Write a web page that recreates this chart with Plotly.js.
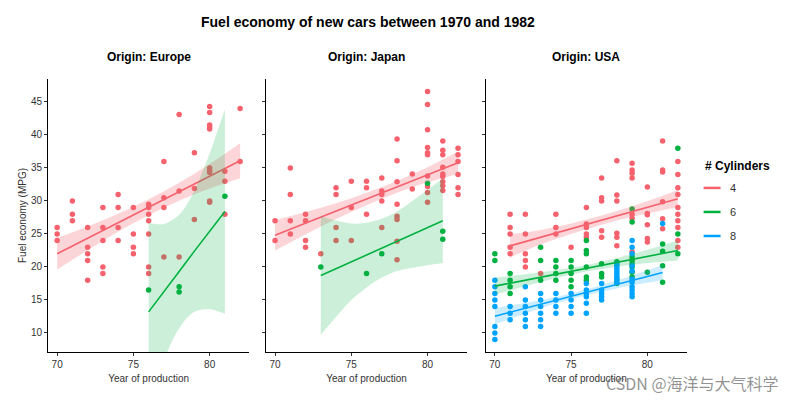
<!DOCTYPE html>
<html><head><meta charset="utf-8">
<script src="https://cdn.plot.ly/plotly-3.0.1.min.js"></script>
<style>html,body{margin:0;padding:0;background:#fff}#chart{width:800px;height:400px}</style>
</head><body><div id="chart"></div>
<script>
// ---- DATA (grouped: [year, mpg, mpg, ...]) ----
const origins = ['Europe', 'Japan', 'USA'];
const cylinders = ['4', '6', '8'];
const xTicks = [70, 75, 80];
const yTicks = [10, 15, 20, 25, 30, 35, 40, 45];

const eu4 = [[70,26,25,24],[71,30,28,27],[72,26,23,22,21,18],[73,29,26,24,20,19],[74,31,29,26,24],[75,29,25,23,22],
  [76,29.5,29,28,27,25,20,19],[77,36,30.5,29,21.5],[78,43.1,31.5,21.5],[79,37.3,31.9,27.2],
  [80,44.3,43.4,41.5,41.2,40.9,35,34.6,34.3,30,29.8],[81,34.5,33,28],[82,44,36]];
const eu6 = [[76,16.5],[78,17,16.2],[81,30.7]];
const eu8 = [];

const jp4 = [[70,27,24],[71,35,31,27,25],[72,28,27,24,23],[73,22],[74,32,31,26,24],[75,33,29,24],[76,33,32,28],
  [77,33.5,31.5,31,30,26],[78,39.4,36.1,32.9,29.5,27.7,27.2,23.9,21.1],[79,34.1,31.8],
  [80,46.6,44.6,40.8,38.1,37.3,37,33.8,32.2,31.3,29.8],[81,39.1,37.7,37,35.1,34.1,33.7,32.9,32.3,31.6],[82,38,37,36,34,32,31]];
const jp6 = [[73,20],[76,19],[77,22],[80,32.7],[81,25.4,24.2]];
const jp8 = [];

const us4 = [[71,28,26,25,23,22],[72,28,25,22,21,20],[73,19],[74,28,26,25],[75,23],[76,29,26.5,26,25,24.5],
  [77,33.5,30.5,30,25.5,24.5],[78,36.1,30.9,30,25.1,24.5,23.2],[79,35.7,34.7,34.2,33.5,28,27.4,22.3],
  [80,32.1,28.1,27.9,26.4,24.3,23.8],[81,39.1,34.7,34.4,29.9,27.3,25.8],[82,36,34,32,31,29,28,27,26,24,23]];
const us6 = [[70,22,21],[71,19,18,17,16],[73,23,21,18],[74,21,20,19,18],[75,21,20,19,18,17],[76,24,22.5,22,20,18.5,18],
  [77,20.5,19,18.5],[78,20.8,18.1,17.5],[79,28.8,26.8,21.5,21,20.5,20,19.2,18.5],[80,19.2],[81,23.5,22.4,20.2,17.7],[82,38,25,22]];
const us8 = [[70,18,17,16,15,14,11,10,9],[71,14,13,12],[72,17,15,14,13,12,11],[73,16,15,14,13,12,11],[74,16,15,14,13],
  [75,16,15,14,13],[76,17.5,16.5,16,15.5,14.5,13],[77,17.5,16.5,16,15.5,15],[78,20.5,20.2,19.8,19.4,19,18.6,18.2,17.7],
  [79,24,23,22,20.2,19.4,18.1,17.7,17,16.5,16,15.5],[81,26.6]];

// fitted lines and confidence bands
const eu4FitX = [70,72,74,76,78,80,82];
const eu4Fit  = [22.0,24.35,26.7,29.05,31.4,33.75,36.1];
const eu4Lo   = [19.6,22.55,25.35,27.85,30.05,31.9,33.45];
const eu4Hi   = [24.4,26.15,28.05,30.25,32.75,35.6,38.75];
const eu6FitX = [76,76.5,77,78,79,80,80.5,81];
const eu6Fit  = [13.2,14.7,16.2,19.3,22.4,25.4,26.9,28.4];
const eu6Lo   = [-0.3,2.9,5.9,10.7,13.2,13.6,13.3,12.9];
const eu6Hi   = [26.7,26.5,26.5,27.9,31.6,37.2,40.5,43.9];
const jp4FitX = [70,72,74,76,78,80,82];
const jp4Fit  = [24.8,26.63,28.47,30.3,32.13,33.97,35.8];
const jp4Lo   = [22.5,24.93,27.27,29.35,31.23,32.82,34.1];
const jp4Hi   = [27.1,28.33,29.67,31.25,33.03,35.12,37.5];
const jp6FitX = [73,74,75,76,77,78,79,80,81];
const jp6Fit  = [18.7,19.74,20.78,21.81,22.85,23.89,24.93,25.96,27.0];
const jp6Lo   = [9.75,12.44,14.98,16.91,18.4,19.39,19.88,20.26,20.6];
const jp6Hi   = [27.65,27.04,26.58,26.71,27.3,28.39,29.98,31.66,33.4];
const us4FitX = [71,73,75,77,79,81,82];
const us4Fit  = [23.2,24.5,25.8,27.1,28.4,29.7,30.35];
const us4Lo   = [21.45,23.4,25.0,26.4,27.6,28.6,29.05];
const us4Hi   = [24.95,25.6,26.6,27.8,29.2,30.8,31.65];
const us6FitX = [70,72,74,76,78,80,82];
const us6Fit  = [17.1,18.0,18.9,19.8,20.7,21.6,22.5];
const us6Lo   = [15.8,17.1,18.3,19.3,20.05,20.6,21.0];
const us6Hi   = [18.4,18.9,19.5,20.3,21.35,22.6,24.0];
const us8FitX = [70,72,74,76,78,80,81];
const us8Fit  = [12.55,13.75,14.95,16.15,17.35,18.55,19.15];
const us8Lo   = [11.3,12.95,14.45,15.7,16.75,17.6,18.0];
const us8Hi   = [13.8,14.55,15.45,16.6,17.95,19.5,20.3];

// ---- STYLE ----
const colors = {'4':'#F5626E', '6':'#00B140', '8':'#00A4FF'};
const bands  = {'4':'rgba(245,98,110,0.27)', '6':'rgba(0,177,64,0.2)', '8':'rgba(0,164,255,0.2)'};
const FONT = 'Liberation Sans, Arial, Helvetica, sans-serif';

const groups = {
  Europe: {'4':[eu4, eu4FitX, eu4Fit, eu4Lo, eu4Hi], '6':[eu6, eu6FitX, eu6Fit, eu6Lo, eu6Hi], '8':[eu8]},
  Japan:  {'4':[jp4, jp4FitX, jp4Fit, jp4Lo, jp4Hi], '6':[jp6, jp6FitX, jp6Fit, jp6Lo, jp6Hi], '8':[jp8]},
  USA:    {'4':[us4, us4FitX, us4Fit, us4Lo, us4Hi], '6':[us6, us6FitX, us6Fit, us6Lo, us6Hi], '8':[us8, us8FitX, us8Fit, us8Lo, us8Hi]}
};

function expand(g) {
  const xs = [], ys = [];
  g.forEach(row => { for (let i = 1; i < row.length; i++) { xs.push(row[0]); ys.push(row[i]); } });
  return {xs, ys};
}

const traces = [];
origins.forEach((o, i) => {
  const xa = i === 0 ? 'x' : 'x' + (i + 1);
  const ya = i === 0 ? 'y' : 'y' + (i + 1);
  // points first
  cylinders.forEach(c => {
    const g = groups[o][c];
    const {xs, ys} = expand(g[0]);
    if (!xs.length) return;
    traces.push({type:'scatter', mode:'markers', x:xs, y:ys, xaxis:xa, yaxis:ya,
      marker:{color:colors[c], size:5.5, line:{width:0}}, showlegend:false, hoverinfo:'skip'});
  });
  // smooth layer on top
  cylinders.forEach(c => {
    const g = groups[o][c];
    if (g.length < 5) return;
    const [, fx, fy, lo, hi] = g;
    traces.push({type:'scatter', mode:'lines', x:fx, y:lo, xaxis:xa, yaxis:ya,
      line:{width:0, shape:'spline', smoothing:1}, showlegend:false, hoverinfo:'skip'});
    traces.push({type:'scatter', mode:'lines', x:fx, y:hi, xaxis:xa, yaxis:ya, fill:'tonexty',
      fillcolor:bands[c], line:{width:0, shape:'spline', smoothing:1}, showlegend:false, hoverinfo:'skip'});
    traces.push({type:'scatter', mode:'lines', x:fx, y:fy, xaxis:xa, yaxis:ya,
      line:{color:colors[c], width:1.6}, showlegend:false, hoverinfo:'skip'});
  });
});

const domains = [[0, 0.315], [0.341, 0.656], [0.685, 1]];
const tickfont = {family:FONT, size:10, color:'#333'};
const layout = {
  width:800, height:400,
  margin:{l:48, r:113, t:79, b:48},
  paper_bgcolor:'#fff', plot_bgcolor:'#fff',
  showlegend:false,
  font:{family:FONT},
  annotations:[], shapes:[]
};
origins.forEach((o, i) => {
  const s = i === 0 ? '' : String(i + 1);
  layout['xaxis' + s] = {domain:domains[i], range:[69.4, 82.6], tickvals:xTicks, anchor:'y' + s,
    showline:true, linecolor:'#000', linewidth:1, ticks:'outside', ticklen:3, tickcolor:'#333', tickfont:tickfont,
    showgrid:false, zeroline:false,
    title:{text:'Year of production', font:{family:FONT, size:10, color:'#333'}, standoff:5}};
  layout['yaxis' + s] = {range:[7.12, 48.48], tickvals:yTicks, anchor:'x' + s,
    showline:true, linecolor:'#000', linewidth:1, ticks:'outside', ticklen:3, tickcolor:'#333', tickfont:tickfont,
    showticklabels:i === 0, showgrid:false, zeroline:false,
    title: i === 0 ? {text:'Fuel economy (MPG)', font:{family:FONT, size:10, color:'#333'}, standoff:2} : undefined};
  layout.annotations.push({text:'<b>Origin: ' + o + '</b>', xref:'paper', yref:'paper',
    x:(domains[i][0] + domains[i][1]) / 2, y:1.0806, xanchor:'center', yanchor:'middle', showarrow:false,
    font:{family:FONT, size:12, color:'#000'}});
});
layout.annotations.push({text:'<b>Fuel economy of new cars between 1970 and 1982</b>', xref:'paper', yref:'paper',
  x:0.5, y:1.2088, xanchor:'center', yanchor:'middle', showarrow:false, font:{family:FONT, size:14, color:'#000'}});

// legend (drawn manually)
layout.annotations.push({text:'<b># Cylinders</b>', xref:'paper', yref:'paper', x:1.025, y:0.681,
  xanchor:'left', yanchor:'middle', showarrow:false, font:{family:FONT, size:12, color:'#000'}});
const legY = [0.601, 0.513, 0.425];
cylinders.forEach((c, k) => {
  layout.shapes.push({type:'line', xref:'paper', yref:'paper', x0:1.026, x1:1.0525, y0:legY[k], y1:legY[k],
    line:{color:colors[c], width:2.5}});
  layout.annotations.push({text:c, xref:'paper', yref:'paper', x:1.064, y:legY[k], xanchor:'left', yanchor:'middle',
    showarrow:false, font:{family:FONT, size:11, color:'#333'}});
});

// watermark present in the picture
layout.annotations.push({text:'CSDN @海洋与大气科学', xref:'paper', yref:'paper', x:1.008, y:-0.114,
  xanchor:'center', yanchor:'middle', showarrow:false,
  font:{family:'Noto Sans CJK SC, sans-serif', size:16, color:'rgba(110,110,110,0.75)'}});

Plotly.newPlot('chart', traces, layout, {staticPlot:true, displayModeBar:false});
</script></body></html>
